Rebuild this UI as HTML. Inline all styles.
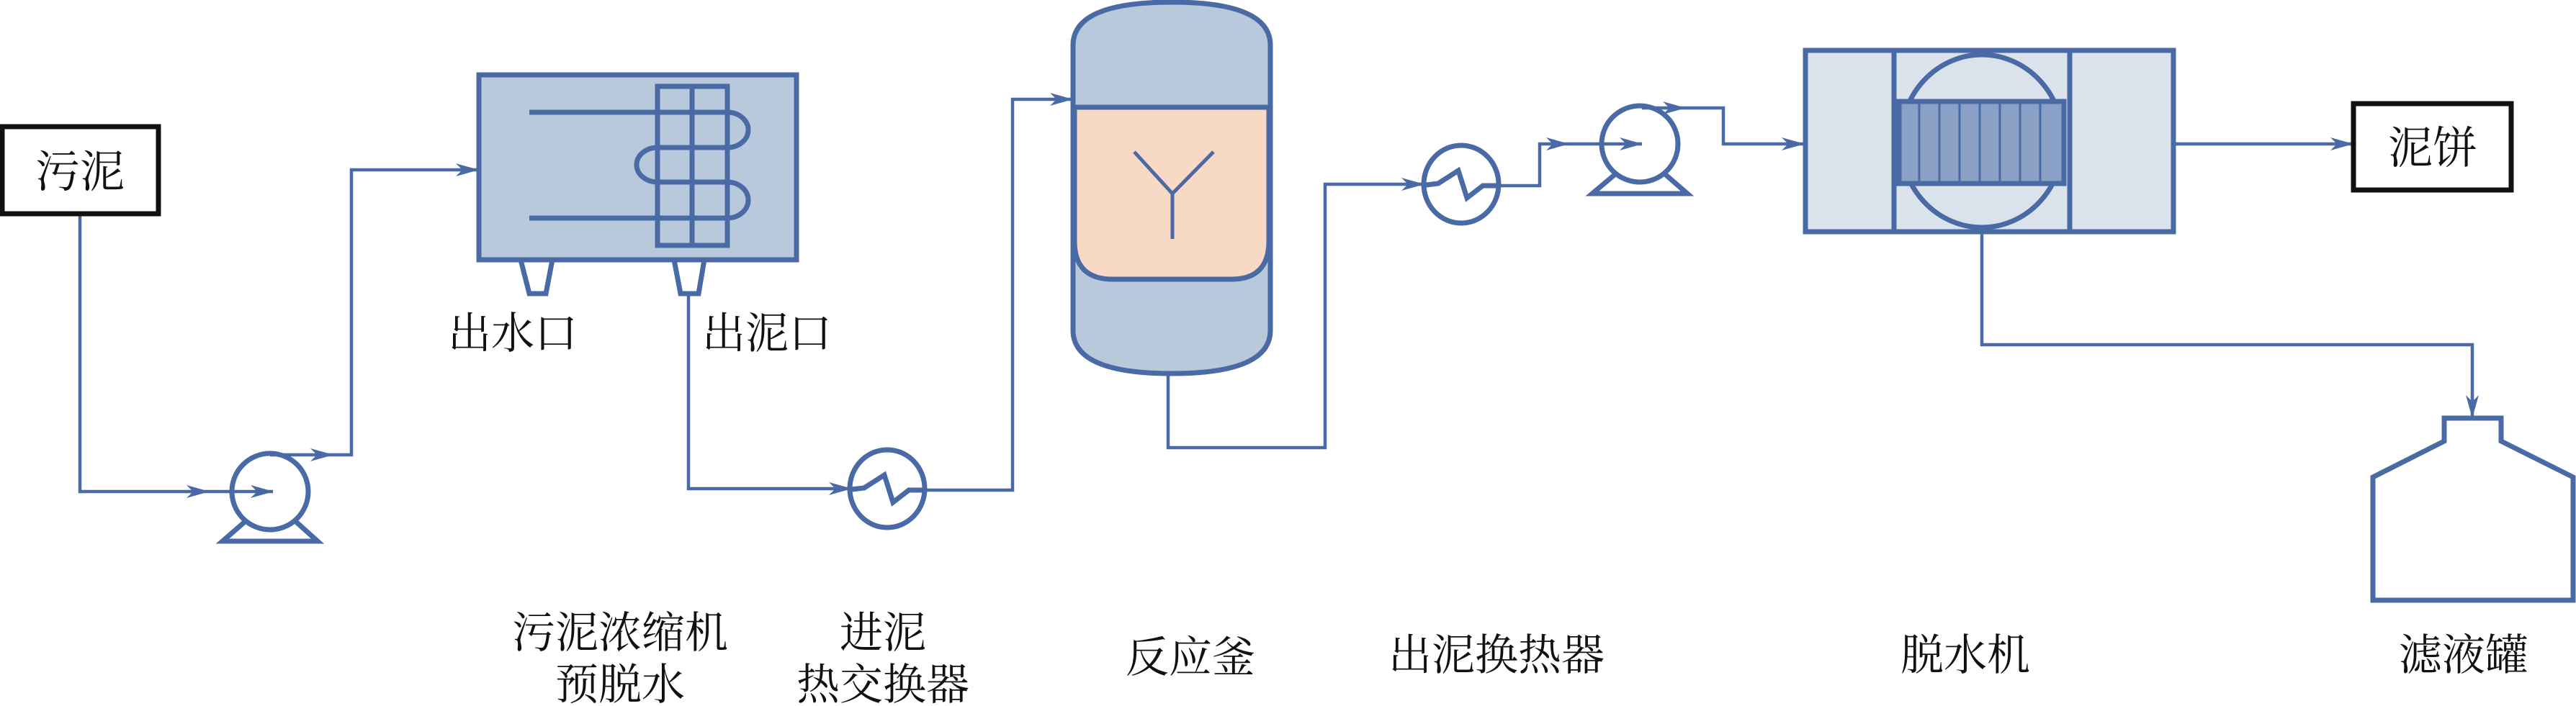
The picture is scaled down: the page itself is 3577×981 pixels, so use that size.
<!DOCTYPE html>
<html><head><meta charset="utf-8"><style>
html,body{margin:0;padding:0;background:#fff;}
svg{display:block;}
text{font-family:"Liberation Serif","Noto Serif CJK SC",serif;fill:#111;}
</style></head><body>
<svg width="3577" height="981" viewBox="0 0 3577 981" xmlns="http://www.w3.org/2000/svg">
<defs>
<marker id="a" viewBox="0 0 32 18" refX="31" refY="9" markerWidth="32" markerHeight="18" markerUnits="userSpaceOnUse" orient="auto">
<path d="M0,0 L32,9 L0,18 L9,9 Z" fill="#4a6aa5"/>
</marker>
</defs>
<g fill="none" stroke="#4a6aa5" stroke-width="4.5">
<path d="M111,297 V683 H290" marker-end="url(#a)"/>
<path d="M290,683 H379" marker-end="url(#a)"/>
<path d="M375,632 H462" marker-end="url(#a)"/>
<path d="M462,632 H488 V236 H664" marker-end="url(#a)"/>
<path d="M956,408 V679 H1182" marker-end="url(#a)"/>
<path d="M1284,681 H1406 V138 H1489" marker-end="url(#a)"/>
<path d="M1622,519 V622 H1840 V256 H1977" marker-end="url(#a)"/>
<path d="M2081,258 H2138 V200 H2178" marker-end="url(#a)"/>
<path d="M2178,200 H2280" marker-end="url(#a)"/>
<path d="M2280,150 H2340" marker-end="url(#a)"/>
<path d="M2340,150 H2393 V200 H2505" marker-end="url(#a)"/>
<path d="M3018,200 H3267" marker-end="url(#a)"/>
<path d="M2752,322 V479 H3433 V580" marker-end="url(#a)"/>
</g>
<rect x="3" y="176" width="217" height="121" fill="#fff" stroke="#111" stroke-width="7"/>
<text x="111" y="260" font-size="62" text-anchor="middle">污泥</text>
<rect x="3268" y="144" width="219" height="120" fill="#fff" stroke="#111" stroke-width="7"/>
<text x="3378" y="227" font-size="62" text-anchor="middle">泥饼</text>
<g stroke="#4a6aa5" stroke-width="7">
<ellipse cx="375" cy="683" rx="53" ry="53" fill="none"/>
<path d="M340,725 L309,752 L441,752 L411,725" fill="none"/>
<ellipse cx="2277" cy="200" rx="53" ry="53" fill="none"/>
<path d="M2243,242 L2211,269 L2343,269 L2312,242" fill="none"/>
<ellipse cx="1232" cy="679" rx="52" ry="54" fill="#fff"/>
<path d="M1183,680 L1200,678 L1228,660 L1240,698 L1262,681 L1282,681" fill="none"/>
<ellipse cx="2029" cy="256" rx="52" ry="54" fill="#fff"/>
<path d="M1980,257 L1997,255 L2025,237 L2037,275 L2059,258 L2079,258" fill="none"/>
<rect x="665" y="104" width="441" height="257" fill="#b8c9dc"/>
<path d="M723,361 L767,361 L758,408 L735,408 Z" fill="#fff"/>
<path d="M936,361 L978,361 L970,408 L945,408 Z" fill="#fff"/>
<rect x="913" y="120" width="97" height="221" fill="none"/>
<line x1="961" y1="120" x2="961" y2="341"/>
<path d="M735,156 H1010 A29,24.5 0 0 1 1010,205 H913 A29,24 0 0 0 913,253 H1010 A29,25 0 0 1 1010,303 H735" fill="none"/>
<path d="M1490,63 Q1490,3 1627,3 Q1764,3 1764,63 V459 Q1764,519 1627,519 Q1490,519 1490,459 Z" fill="#b8c9dc"/>
<path d="M1492,149 H1762 V335 Q1762,388 1710,388 H1545 Q1492,388 1492,335 Z" fill="#f8d9c6"/>
<line x1="1490" y1="149" x2="1764" y2="149"/>
<path d="M1575,211 L1628,269 L1685,211 M1628,269 V332" fill="none" stroke-width="5"/>
<rect x="2507" y="70" width="511" height="252" fill="#dae2ec"/>
<line x1="2630" y1="70" x2="2630" y2="322"/>
<line x1="2874" y1="70" x2="2874" y2="322"/>
<ellipse cx="2752" cy="196" rx="113" ry="120" fill="#dae2ec"/>
<rect x="2637" y="141" width="229" height="114" fill="#8aa1c5"/>
<g stroke-width="3">
<line x1="2665" y1="141" x2="2665" y2="255"/><line x1="2693" y1="141" x2="2693" y2="255"/>
<line x1="2721" y1="141" x2="2721" y2="255"/><line x1="2749" y1="141" x2="2749" y2="255"/>
<line x1="2777" y1="141" x2="2777" y2="255"/><line x1="2805" y1="141" x2="2805" y2="255"/>
<line x1="2833" y1="141" x2="2833" y2="255"/>
</g>
<path d="M3394,581 H3473 V613 L3573,663 V834 H3295 V663 L3394,613 Z" fill="#fff"/>
</g>
<g font-size="60" text-anchor="middle">
<text x="712" y="484">出水口</text>
<text x="1065" y="484">出泥口</text>
<text x="861" y="900">污泥浓缩机</text>
<text x="861" y="972">预脱水</text>
<text x="1226" y="900">进泥</text>
<text x="1226" y="972">热交换器</text>
<text x="1653" y="934">反应釜</text>
<text x="2078" y="931">出泥换热器</text>
<text x="2729" y="931">脱水机</text>
<text x="3421" y="931">滤液罐</text>
</g>
</svg>
</body></html>
